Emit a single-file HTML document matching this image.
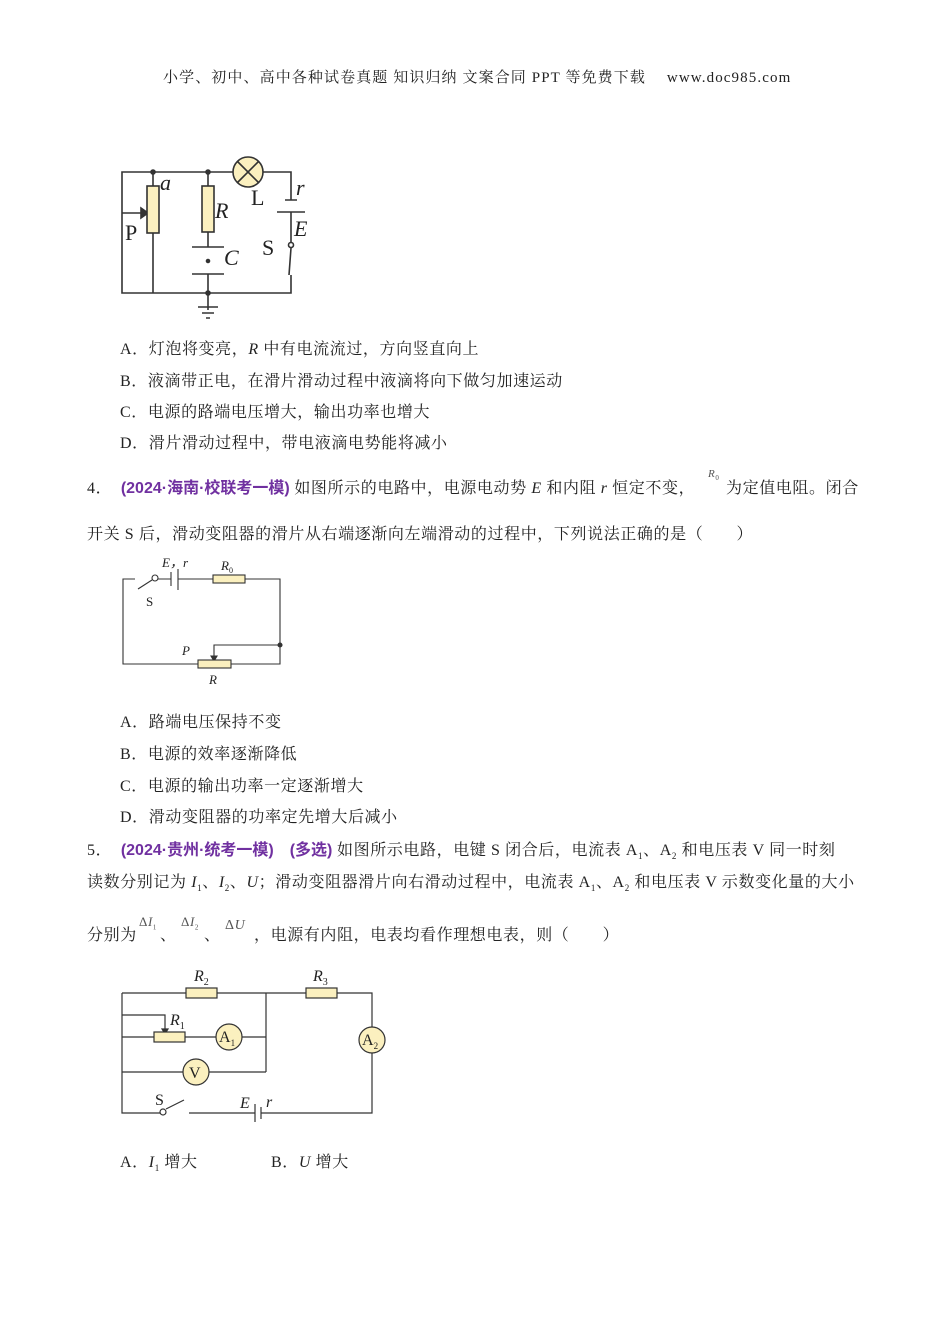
<!DOCTYPE html>
<html><head><meta charset="utf-8"><style>
body{margin:0;width:950px;height:1344px;background:#fff;position:relative;font-family:"Liberation Serif","Noto Serif CJK SC",serif;color:#222;}
.t{position:absolute;font-size:16px;line-height:20px;white-space:nowrap;letter-spacing:0.6px}
.p{color:#7030a0;font-weight:bold;font-family:"Liberation Sans","Noto Sans CJK SC",sans-serif;letter-spacing:0}
i{font-style:italic}
svg{position:absolute;left:0;top:0}
svg text{font-family:"Liberation Serif",serif}
</style></head><body>
<div class="t" style="left:163px;top:68px;font-size:15px;letter-spacing:1.1px">小学、初中、高中各种试卷真题 知识归纳 文案合同 PPT 等免费下载　 www.doc985.com</div>

<div class="t" style="left:120px;top:340px">A．灯泡将变亮，<i>R</i> 中有电流流过，方向竖直向上</div>
<div class="t" style="left:120px;top:372px">B．液滴带正电，在滑片滑动过程中液滴将向下做匀加速运动</div>
<div class="t" style="left:120px;top:403px">C．电源的路端电压增大，输出功率也增大</div>
<div class="t" style="left:120px;top:434px">D．滑片滑动过程中，带电液滴电势能将减小</div>

<div class="t" style="left:87px;top:479px">4．　<span class="p">(2024·海南·校联考一模)</span> 如图所示的电路中，电源电动势 <i>E</i> 和内阻 <i>r</i> 恒定不变，</div>
<div class="t" style="left:726px;top:479px">为定值电阻。闭合</div>
<div class="t" style="left:708px;top:464px;font-size:11px;color:#555"><i>R</i><sub style="font-size:7px">0</sub></div>
<div class="t" style="left:87px;top:525px">开关 S 后，滑动变阻器的滑片从右端逐渐向左端滑动的过程中，下列说法正确的是（　　）</div>

<div class="t" style="left:120px;top:713px">A．路端电压保持不变</div>
<div class="t" style="left:120px;top:745px">B．电源的效率逐渐降低</div>
<div class="t" style="left:120px;top:777px">C．电源的输出功率一定逐渐增大</div>
<div class="t" style="left:120px;top:808px">D．滑动变阻器的功率定先增大后减小</div>

<div class="t" style="left:87px;top:841px">5．　<span class="p">(2024·贵州·统考一模)　(多选)</span> 如图所示电路，电键 S 闭合后，电流表 A<sub style="font-size:9px">1</sub>、A<sub style="font-size:9px">2</sub> 和电压表 V 同一时刻</div>
<div class="t" style="left:87px;top:873px">读数分别记为 <i>I</i><sub style="font-size:9px">1</sub>、<i>I</i><sub style="font-size:9px">2</sub>、<i>U</i>；滑动变阻器滑片向右滑动过程中，电流表 A<sub style="font-size:9px">1</sub>、A<sub style="font-size:9px">2</sub> 和电压表 V 示数变化量的大小</div>
<div class="t" style="left:87px;top:926px">分别为</div>
<div class="t" style="left:160px;top:926px">、</div>
<div class="t" style="left:204px;top:926px">、</div>
<div class="t" style="left:254px;top:926px">，电源有内阻，电表均看作理想电表，则（　　）</div>
<div class="t" style="left:139px;top:912px;font-size:13px;color:#555">Δ<i>I</i><sub style="font-size:7px">1</sub></div>
<div class="t" style="left:181px;top:912px;font-size:13px;color:#555">Δ<i>I</i><sub style="font-size:7px">2</sub></div>
<div class="t" style="left:225px;top:916px;font-size:14px;color:#555">Δ<i>U</i></div>

<div class="t" style="left:120px;top:1153px">A．<i>I</i><sub style="font-size:9px">1</sub> 增大</div>
<div class="t" style="left:271px;top:1153px">B．<i>U</i> 增大</div>

<svg width="950" height="1344" stroke="#333" stroke-width="1.6" fill="none">
<!-- circuit 1 -->
<path d="M153 172H233M263 172H291V200M291 212V245M291 275V293H122V172H153M153 172V186M153 233V293M122 172V213H145M208 172V186M208 232V247M208 274V310M291 248L289 275"/>
<path d="M141 208L148 213L141 218Z" fill="#333"/>
<rect x="147" y="186" width="12" height="47" fill="#fbf0bf"/>
<rect x="202" y="186" width="12" height="46" fill="#fbf0bf"/>
<path d="M192 247H224M192 274H224M285 200H297M277 212H305M198 307H218M202 313H214M206 318H210"/>
<circle cx="208" cy="261" r="1.5" fill="#333"/>
<circle cx="153" cy="172" r="2" fill="#333"/><circle cx="208" cy="172" r="2" fill="#333"/><circle cx="208" cy="293" r="2" fill="#333"/>
<circle cx="248" cy="172" r="15" fill="#fbf0bf"/>
<path d="M237 161L259 183M259 161L237 183"/>
<circle cx="291" cy="245" r="2.5" fill="#fff"/>
<g stroke="none" fill="#222" font-size="22"><text x="160" y="190" font-style="italic">a</text><text x="215" y="218" font-style="italic">R</text><text x="251" y="205">L</text><text x="296" y="195" font-style="italic">r</text><text x="294" y="236" font-style="italic">E</text><text x="262" y="255">S</text><text x="125" y="240">P</text><text x="224" y="265" font-style="italic">C</text></g>
<!-- circuit 2 -->
<g stroke-width="1.1">
<path d="M135 579H123V664H198M231 664H280V579H245M213 579H178M171 579H158M138 589L152 580M280 645H214V658M171 572V586M178 569V590"/>
<path d="M211 656L214 661L217 656Z" fill="#333"/>
<rect x="213" y="575" width="32" height="8" fill="#fbf0bf"/>
<rect x="198" y="660" width="33" height="8" fill="#fbf0bf"/>
<circle cx="155" cy="578" r="3" fill="#fff"/><circle cx="280" cy="645" r="2" fill="#333"/>
</g>
<g stroke="none" fill="#222" font-size="13" font-style="italic"><text x="162" y="567">E，r</text><text x="221" y="570">R<tspan font-size="8" dy="3" font-style="normal">0</tspan></text><text x="146" y="606" font-style="normal">S</text><text x="182" y="655">P</text><text x="209" y="684">R</text></g>
<!-- circuit 3 -->
<g stroke-width="1.2">
<path d="M122 993H186M217 993H306M337 993H372V1027M372 1053V1113H261M255 1113H189M161 1113H122V993M266 993V1072M122 1037H154M185 1037H216M242 1037H266M122 1072H183M209 1072H266M122 1015H165V1030M166 1109L184 1100M255 1104V1122M261 1107V1119"/>
<path d="M162 1029L165 1034L168 1029Z" fill="#333"/>
<rect x="186" y="988" width="31" height="10" fill="#fbf0bf"/>
<rect x="306" y="988" width="31" height="10" fill="#fbf0bf"/>
<rect x="154" y="1032" width="31" height="10" fill="#fbf0bf"/>
<circle cx="229" cy="1037" r="13" fill="#fbf0bf"/>
<circle cx="196" cy="1072" r="13" fill="#fbf0bf"/>
<circle cx="372" cy="1040" r="13" fill="#fbf0bf"/>
<circle cx="163" cy="1112" r="3" fill="#fff"/>
</g>
<g stroke="none" fill="#222" font-size="16"><text x="194" y="981" font-style="italic">R<tspan font-size="10" dy="4" font-style="normal">2</tspan></text><text x="313" y="981" font-style="italic">R<tspan font-size="10" dy="4" font-style="normal">3</tspan></text><text x="170" y="1025" font-style="italic">R<tspan font-size="10" dy="4" font-style="normal">1</tspan></text>
<text x="219" y="1042">A<tspan font-size="9" dy="4">1</tspan></text><text x="362" y="1045">A<tspan font-size="9" dy="4">2</tspan></text><text x="189" y="1078">V</text><text x="155" y="1105">S</text><text x="240" y="1108" font-style="italic">E</text><text x="266" y="1107" font-style="italic">r</text></g>
</svg>
</body></html>
